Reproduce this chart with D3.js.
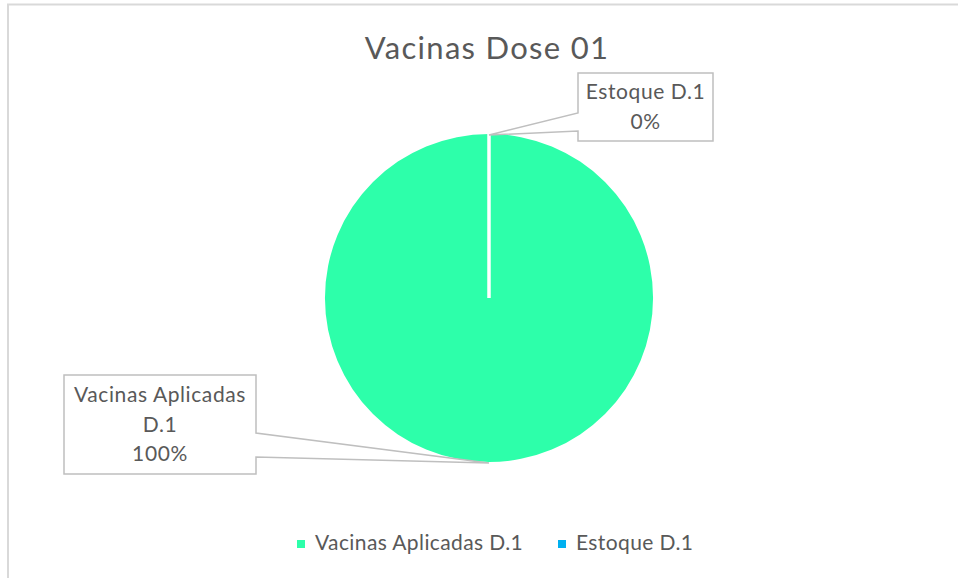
<!DOCTYPE html>
<html>
<head>
<meta charset="utf-8">
<script src="https://cdn.jsdelivr.net/npm/d3@7"></script>
<style>
  body { margin: 0; background: #fff; }
  text { font-family: Lato, "Open Sans", sans-serif; fill: #595959; }
</style>
</head>
<body>
<script>
var categories = ["Vacinas Aplicadas D.1", "Estoque D.1"];
var values = [100, 0];
var colors = ["#2DFFAA", "#00B0F0"];
var labelLines = [["Vacinas Aplicadas", "D.1"], ["Estoque D.1"]];
var title = "Vacinas Dose 01";

var width = 958, height = 578;
var cx = 489, cy = 298, radius = 164;

var svg = d3.select("body")
    .append("svg")
    .attr("width", width)
    .attr("height", height);

// chart area border (only top and left visible)
svg.append("rect")
    .attr("x", 8)
    .attr("y", 4.5)
    .attr("width", width + 20)
    .attr("height", height + 20)
    .attr("fill", "none")
    .attr("stroke", "#d9d9d9")
    .attr("stroke-width", 2);

svg.append("text")
    .attr("x", 487)
    .attr("y", 59)
    .attr("text-anchor", "middle")
    .style("font-size", "31px")
    .style("letter-spacing", "1.3px")
    .text(title);

var data = categories.map(function(c, i) { return {name: c, value: values[i], i: i}; });
var total = d3.sum(values);

var pie = d3.pie()
    .sort(null)
    .value(function(d) { return d.value; });
var arcs = pie(data);

var arc = d3.arc().innerRadius(0).outerRadius(radius);

var g = svg.append("g")
    .attr("transform", "translate(" + cx + "," + cy + ")");

g.selectAll("path.slice")
    .data(arcs)
    .enter().append("path")
    .attr("class", "slice")
    .attr("d", arc)
    .attr("fill", function(d) { return colors[d.data.i]; });

// white slice borders
g.selectAll("line.sep")
    .data(arcs)
    .enter().append("line")
    .attr("class", "sep")
    .attr("x1", 0).attr("y1", 0)
    .attr("x2", function(d) { return d3.pointRadial(d.startAngle, radius)[0]; })
    .attr("y2", function(d) { return d3.pointRadial(d.startAngle, radius)[1]; })
    .attr("stroke", "#fff")
    .attr("stroke-width", 3);

// callout boxes, wedge attaches between a and b on one side
var boxes = [
    {x: 64, y: 375, w: 192, h: 99, side: "right", a: 58, b: 82},
    {x: 578, y: 73, w: 135, h: 68, side: "left", a: 40, b: 58}
];

arcs.forEach(function(d, k) {
    var bx = boxes[k];
    var mid = (d.startAngle + d.endAngle) / 2;
    var tip = d3.pointRadial(mid, radius);
    var tx = cx + tip[0], ty = cy + tip[1] + 1;
    var x0 = bx.x, y0 = bx.y, x1 = bx.x + bx.w, y1 = bx.y + bx.h;
    var p = d3.path();
    p.moveTo(x0, y0);
    p.lineTo(x1, y0);
    if (bx.side === "right") {
        p.lineTo(x1, y0 + bx.a);
        p.lineTo(tx, ty);
        p.lineTo(x1, y0 + bx.b);
    }
    p.lineTo(x1, y1);
    p.lineTo(x0, y1);
    if (bx.side === "left") {
        p.lineTo(x0, y0 + bx.b);
        p.lineTo(tx, ty);
        p.lineTo(x0, y0 + bx.a);
    }
    p.closePath();
    svg.append("path")
        .attr("d", p.toString())
        .attr("fill", "#fff")
        .attr("stroke", "#bfbfbf")
        .attr("stroke-width", 1.5);

    var lines = labelLines[k].concat([d3.format(".0%")(d.data.value / total)]);
    var lineH = 29.5;
    var startY = (y0 + y1) / 2 - (lines.length - 1) * lineH / 2 + 7;
    svg.append("text")
        .attr("text-anchor", "middle")
        .style("font-size", "21px")
        .style("letter-spacing", "0.6px")
        .selectAll("tspan")
        .data(lines)
        .enter().append("tspan")
        .attr("x", (x0 + x1) / 2)
        .attr("y", function(t, j) { return startY + j * lineH; })
        .text(function(t) { return t; });
});

// legend
var legendX = [297, 558];
var legend = svg.selectAll("g.legend")
    .data(data)
    .enter().append("g")
    .attr("class", "legend")
    .attr("transform", function(d, i) { return "translate(" + legendX[i] + ",540)"; });

legend.append("rect")
    .attr("width", 8)
    .attr("height", 8)
    .attr("fill", function(d) { return colors[d.i]; });

legend.append("text")
    .attr("x", 18)
    .attr("y", 10)
    .style("font-size", "21px")
    .style("letter-spacing", "0.4px")
    .text(function(d) { return d.name; });
</script>
</body>
</html>
